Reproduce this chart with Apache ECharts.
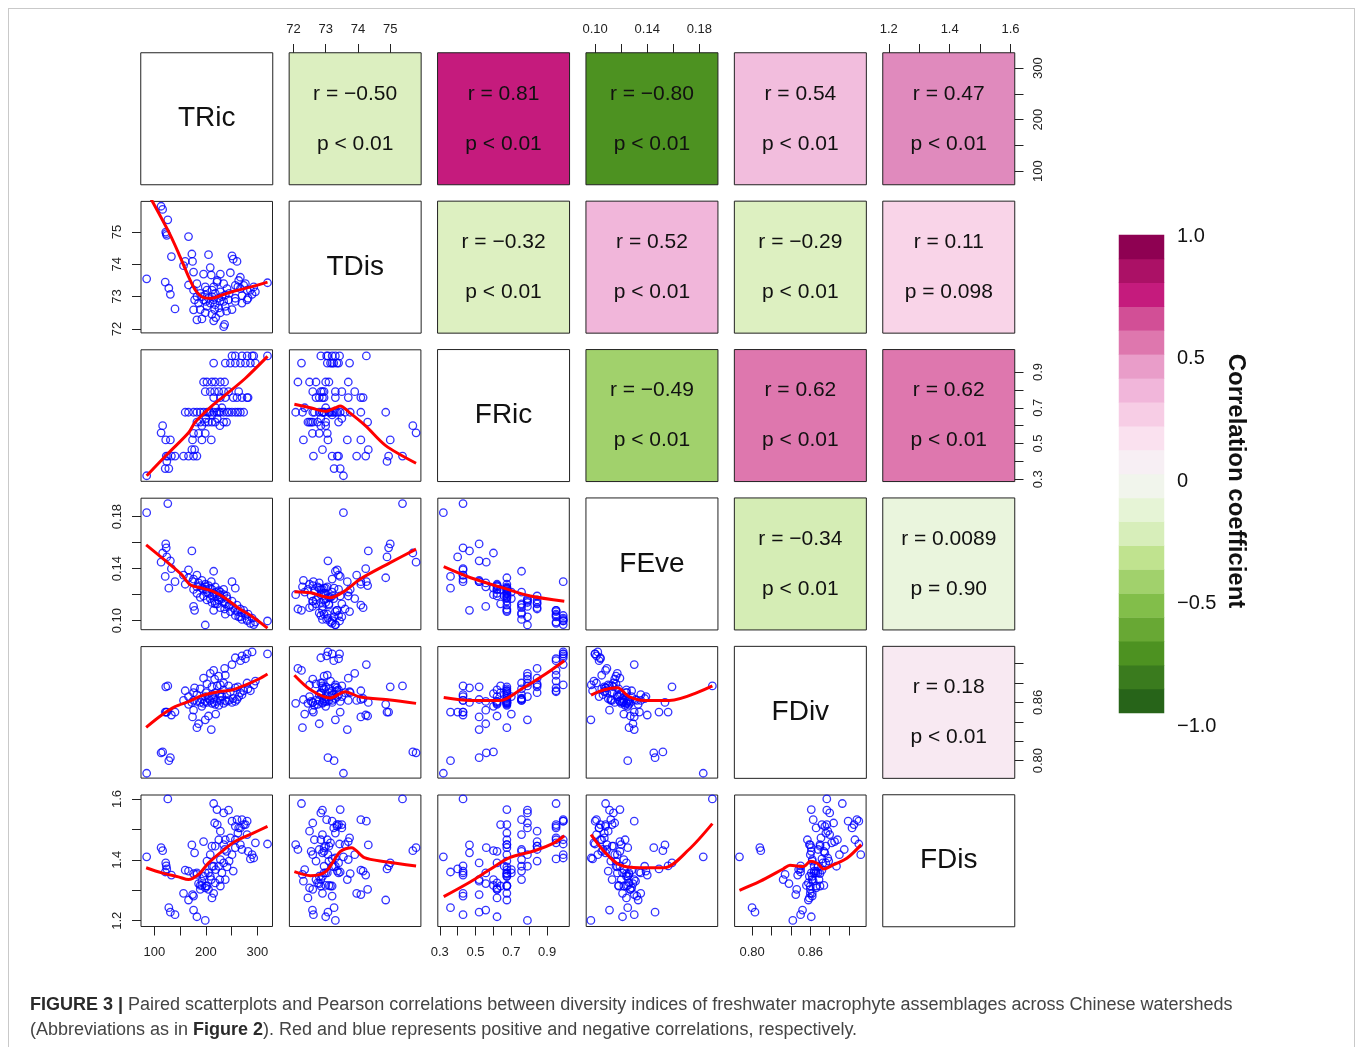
<!DOCTYPE html>
<html><head><meta charset="utf-8">
<script src="https://cdn.jsdelivr.net/npm/echarts@6/dist/echarts.min.js"></script>
<style>
html,body{margin:0;padding:0;background:#fff;}
#frame{position:absolute;left:8px;top:8px;width:1347px;height:1045px;border:1px solid #c9c9c9;box-sizing:border-box;}
#chart{position:absolute;left:0;top:0;width:1360px;height:1047px;}
</style></head><body>
<div id="frame"></div>
<div id="chart"></div>
<script>
// ---------------- data ----------------
const varNames = ['TRic', 'TDis', 'FRic', 'FEve', 'FDiv', 'FDis'];

const TRic = [85,113,116,122,123,124,121,126,128,131,133,140,
  156.5,159.8,166.2,166.2,172.7,174,176,176,176,178,
  182.5,182.5,182.5,185.7,189,189,192.2,195.4,195.4,198.7,
  198.7,198.7,202,202,205,208.4,208.4,210.4,211.7,211.7,
  215,215,215,216.9,218,218,221.4,224.7,228,228,
  228,234.4,234.4,234.4,236.3,237.6,237.6,241,244,247.4,
  250.6,250.6,257,257,257,260.3,266.8,267,270,270,
  276.6,280,281.8,289.6,319.5,205,212,225,245,262,
  219,231,200,222,240,192,227,253,279.8,286.3,
  292.8,296,273.3,263.6];
const TDis = [73.55,75.8,75.7,75.0,74.95,74.9,73.45,75.38,73.26,73.07,74.24,72.62,
  73.96,74.09,74.86,73.36,74.32,74.09,73.76,72.59,73.2,72.9,
  72.28,73.0,73.4,72.8,73.1,72.6,72.31,73.7,72.9,73.3,
  72.5,73.05,72.7,73.2,74.3,73.9,72.8,73.67,73.0,72.45,
  72.25,73.3,72.9,72.6,73.1,72.75,73.45,72.95,72.5,73.7,
  73.15,72.85,72.07,73.4,72.14,73.05,72.7,73.25,72.9,73.74,
  74.26,72.6,72.85,73.35,72.95,74.09,73.6,73.25,73.03,72.8,
  73.4,73.2,72.95,73.07,73.43,72.95,73.2,72.65,73.1,73.3,
  72.35,73.0,72.85,73.5,72.55,73.0,72.85,74.16,72.9,73.2,
  73.3,73.15,73.35,73.5];
const FRic = [0.32,0.56,0.60,0.52,0.43,0.40,0.36,0.43,0.36,0.52,0.43,0.43,
  0.43,0.675,0.675,0.43,0.466,0.52,0.675,0.557,0.43,0.466,
  0.675,0.62,0.43,0.557,0.675,0.62,0.52,0.844,0.675,0.79,
  0.62,0.557,0.844,0.675,0.62,0.79,0.675,0.52,0.844,0.62,
  0.95,0.757,0.675,0.79,0.844,0.62,0.675,0.79,0.844,0.757,
  0.675,0.79,0.675,0.62,0.844,0.95,0.757,0.675,0.79,0.95,
  0.99,0.675,0.99,0.95,0.675,0.757,0.675,0.95,0.99,0.757,
  0.95,0.99,0.757,0.99,0.99,0.675,0.66,0.675,0.675,0.675,
  0.70,0.70,0.64,0.64,0.62,0.60,0.60,0.757,0.757,0.95,
  0.99,0.95,0.675,0.79];
const FEve = [0.183,0.145,0.152,0.159,0.156,0.149,0.134,0.19,0.125,0.146,0.14,0.13,
  0.135,0.128,0.133,0.139,0.1536,0.130,0.124,0.111,0.132,0.108,
  0.126,0.121,0.135,0.129,0.118,0.127,0.131,0.119,0.124,0.0967,
  0.128,0.126,0.116,0.122,0.127,0.117,0.125,0.130,0.114,0.124,
  0.108,0.138,0.121,0.115,0.113,0.126,0.119,0.116,0.110,0.122,
  0.118,0.114,0.120,0.124,0.109,0.105,0.113,0.117,0.111,0.107,
  0.130,0.115,0.104,0.108,0.125,0.112,0.109,0.103,0.101,0.106,
  0.104,0.100,0.105,0.102,0.0998,0.121,0.119,0.123,0.112,0.107,
  0.122,0.117,0.124,0.113,0.119,0.125,0.120,0.110,0.101,0.098,
  0.097,0.099,0.108,0.103];
const FDiv = [0.787,0.808,0.809,0.876,0.85,0.85,0.85,0.877,0.80,0.803,0.847,0.85,
  0.862,0.872,0.858,0.866,0.860,0.845,0.870,0.852,0.862,0.875,
  0.834,0.861,0.868,0.838,0.874,0.860,0.863,0.885,0.859,0.842,
  0.866,0.861,0.879,0.860,0.846,0.890,0.862,0.832,0.876,0.859,
  0.893,0.864,0.860,0.884,0.870,0.858,0.861,0.887,0.878,0.862,
  0.866,0.880,0.859,0.873,0.895,0.888,0.862,0.868,0.877,0.871,
  0.899,0.860,0.906,0.875,0.861,0.863,0.870,0.903,0.908,0.868,
  0.905,0.910,0.874,0.912,0.910,0.864,0.868,0.857,0.862,0.876,
  0.848,0.866,0.870,0.877,0.861,0.856,0.869,0.864,0.880,0.872,
  0.878,0.882,0.872,0.866];
const FDis = [1.41,1.44,1.43,1.39,1.38,1.37,1.36,1.6,1.243,1.228,1.35,1.22,
  1.29,1.366,1.268,1.363,1.449,1.286,1.355,1.235,1.281,1.423,
  1.352,1.213,1.357,1.322,1.316,1.303,1.33,1.46,1.346,1.201,
  1.308,1.357,1.396,1.314,1.303,1.417,1.346,1.335,1.445,1.275,
  1.585,1.379,1.29,1.521,1.445,1.324,1.565,1.379,1.494,1.401,
  1.314,1.554,1.45,1.39,1.434,1.466,1.335,1.377,1.563,1.472,
  1.527,1.417,1.466,1.51,1.44,1.532,1.45,1.505,1.532,1.434,
  1.516,1.527,1.428,1.417,1.452,1.357,1.379,1.466,1.396,1.488,
  1.368,1.357,1.314,1.516,1.428,1.316,1.335,1.363,1.483,1.403,
  1.406,1.456,1.516,1.505];

// axis extents, ticks and tick labels per variable
const axisMin = [74, 71.876, 0.289, 0.0931, 0.782, 1.181];
const axisMax = [329.2, 75.95, 1.024, 0.1941, 0.9175, 1.613];
const tickTRic = [100, 150, 200, 250, 300];
const tickTDis = [72, 73, 74, 75];
const tickFRic = [0.3, 0.4, 0.5, 0.6, 0.7, 0.8, 0.9];
const tickFEve = [0.10, 0.12, 0.14, 0.16, 0.18];
const tickFDiv = [0.80, 0.82, 0.84, 0.86, 0.88, 0.90];
const tickFDis = [1.2, 1.3, 1.4, 1.5, 1.6];
const labelTRic = [100, 200, 300];
const labelTDis = [72, 73, 74, 75];
const labelFRic = [0.3, 0.5, 0.7, 0.9];
const labelFEve = [0.10, 0.14, 0.18];
const labelFDiv = [0.80, 0.86];
const labelFDis = [1.2, 1.4, 1.6];
const labelDecimals = [0, 0, 1, 2, 2, 1];

// smoothed (red) lines: [x, y] in data units
const smooth_TDis_TRic = [[84,76.3],[127.3,75.02],[146.8,74.35],[166.2,73.62],[179.2,73.21],[195.4,72.97],[211.7,72.95],[231.1,73.05],[257.1,73.18],[289.6,73.31],[319.5,73.45]];
const smooth_FRic_TRic = [[85,0.32],[127.3,0.447],[166.2,0.56],[179.2,0.62],[211.7,0.711],[237.6,0.771],[276.6,0.865],[319.5,0.987]];
const smooth_FEve_TRic = [[84,0.1583],[127.3,0.1442],[153.3,0.1352],[169.5,0.1276],[192.2,0.125],[214.9,0.1224],[237.6,0.1173],[263.6,0.1096],[289.6,0.1032],[319.5,0.0943]];
const smooth_FDiv_TRic = [[84,0.8343],[114.3,0.847],[140.3,0.8556],[166.2,0.8607],[192.2,0.867],[224.7,0.871],[250.6,0.8728],[276.6,0.8779],[302.5,0.8841],[319.5,0.8893]];
const smooth_FDis_TRic = [[84,1.374],[114.3,1.357],[146.8,1.344],[166.2,1.335],[185.7,1.352],[205.2,1.39],[231.1,1.428],[257.1,1.461],[289.5,1.486],[319.5,1.51]];
const smooth_FRic_TDis = [[72.03,0.72],[72.53,0.70],[72.99,0.68],[73.3,0.70],[73.45,0.71],[73.76,0.67],[74.23,0.60],[74.85,0.49],[75.8,0.39]];
const smooth_FEve_TDis = [[72.03,0.1223],[72.53,0.1215],[73.14,0.1177],[73.6,0.123],[74.07,0.132],[75.0,0.1446],[75.8,0.155]];
const smooth_FDiv_TDis = [[72.03,0.888],[72.53,0.873],[73.14,0.8645],[73.6,0.871],[74.07,0.8655],[75.0,0.8625],[75.8,0.859]];
const smooth_FDis_TDis = [[72.03,1.361],[72.53,1.348],[73.0,1.361],[73.45,1.427],[73.8,1.44],[74.2,1.407],[74.85,1.394],[75.8,1.38]];
const smooth_FEve_FRic = [[0.322,0.1415],[0.472,0.133],[0.667,0.1246],[0.806,0.119],[0.996,0.115]];
const smooth_FDiv_FRic = [[0.322,0.865],[0.472,0.862],[0.639,0.862],[0.75,0.873],[0.889,0.889],[0.996,0.903]];
const smooth_FDis_FRic = [[0.322,1.279],[0.472,1.328],[0.58,1.368],[0.69,1.407],[0.83,1.43],[0.94,1.456],[0.996,1.479]];
const smooth_FDiv_FEve = [[0.0968,0.8675],[0.107,0.873],[0.117,0.875],[0.126,0.866],[0.1377,0.862],[0.157,0.862],[0.19,0.877]];
const smooth_FDis_FEve = [[0.0968,1.483],[0.107,1.427],[0.1185,1.384],[0.134,1.374],[0.153,1.374],[0.172,1.434],[0.19,1.519]];
const smooth_FDis_FDiv = [[0.787,1.30],[0.808,1.329],[0.832,1.37],[0.839,1.382],[0.853,1.378],[0.86,1.395],[0.867,1.389],[0.874,1.37],[0.884,1.384],[0.898,1.406],[0.9125,1.45]];

// correlation cells (upper triangle)
const corrRow = [0,0,0,0,0,1,1,1,1,2,2,2,3,3,4];
const corrCol = [1,2,3,4,5,2,3,4,5,3,4,5,4,5,5];
const corrR = [-0.50,0.81,-0.80,0.54,0.47,-0.32,0.52,-0.29,0.11,-0.49,0.62,0.62,-0.34,0.0089,0.18];
const corrRText = ['r = −0.50','r = 0.81','r = −0.80','r = 0.54','r = 0.47','r = −0.32','r = 0.52','r = −0.29','r = 0.11','r = −0.49','r = 0.62','r = 0.62','r = −0.34','r = 0.0089','r = 0.18'];
const corrPText = ['p < 0.01','p < 0.01','p < 0.01','p < 0.01','p < 0.01','p < 0.01','p < 0.01','p < 0.01','p = 0.098','p < 0.01','p < 0.01','p < 0.01','p < 0.01','p = 0.90','p < 0.01'];
const corrColor = ['#DCEFC0','#C51B7D','#4D9221','#F2BDDD','#E08ABD','#DDF0C1','#F1B6DA','#DDF0C1','#F9D4E8','#A1D16C','#DE77AE','#DE77AE','#D5EDB5','#EAF5DD','#F8E9F2'];

// colour key: 20 bins from -1 to 1
const keyBins = [-0.95,-0.85,-0.75,-0.65,-0.55,-0.45,-0.35,-0.25,-0.15,-0.05,0.05,0.15,0.25,0.35,0.45,0.55,0.65,0.75,0.85,0.95];
const keyColors = ['#276419','#3A7B1E','#4D9221','#68A834','#82BE4A','#A1D16C','#C0E38F','#D7EEBA','#E6F4D6','#F1F5EC','#F7EFF4','#FAE1EF','#F7CDE5','#F1B6DA','#E99DC9','#DE77AE','#D24F96','#C51B7D','#AB1166','#8E0152'];
const keyTicks = [-1, -0.5, 0, 0.5, 1];
const keyTickText = ['−1.0', '−0.5', '0', '0.5', '1.0'];

// ---------------- build ----------------
const vars = [TRic, TDis, FRic, FEve, FDiv, FDis];
const ticks = [tickTRic, tickTDis, tickFRic, tickFEve, tickFDiv, tickFDis];
const tlabels = [labelTRic, labelTDis, labelFRic, labelFEve, labelFDiv, labelFDis];
const smoothMap = {
  '1-0': smooth_TDis_TRic, '2-0': smooth_FRic_TRic, '3-0': smooth_FEve_TRic, '4-0': smooth_FDiv_TRic, '5-0': smooth_FDis_TRic,
  '2-1': smooth_FRic_TDis, '3-1': smooth_FEve_TDis, '4-1': smooth_FDiv_TDis, '5-1': smooth_FDis_TDis,
  '3-2': smooth_FEve_FRic, '4-2': smooth_FDiv_FRic, '5-2': smooth_FDis_FRic,
  '4-3': smooth_FDiv_FEve, '5-3': smooth_FDis_FEve, '5-4': smooth_FDis_FDiv
};

const FONT = '"Liberation Sans", Arial, Helvetica, sans-serif';
const PANEL = 131.5, PITCH = 148.4, LEFT0 = 141, TOP0 = 53;
const INK = '#222';

const grids = [], xAxes = [], yAxes = [], series = [];

function valueAxis(v, show, pos, isY, g) {
  return {
    type: 'value', gridIndex: g, min: axisMin[v], max: axisMax[v], position: pos, show: show,
    axisLine: { show: false }, splitLine: { show: false },
    axisTick: { show: true, inside: false, length: 9, customValues: ticks[v], lineStyle: { color: INK, width: 1 } },
    axisLabel: {
      show: true, customValues: tlabels[v],
      formatter: (val) => Number(val).toFixed(labelDecimals[v]),
      fontSize: 13, color: INK, fontFamily: FONT, margin: isY ? 17 : (pos === 'top' ? 17 : 19), rotate: isY ? 90 : 0,
      showMinLabel: true, showMaxLabel: true
    }
  };
}

for (let i = 0; i < 6; i++) {
  for (let j = 0; j < 6; j++) {
    const g = grids.length;
    grids.push({
      left: LEFT0 + j * PITCH, top: TOP0 + i * PITCH, width: PANEL, height: PANEL,
      show: i > j, borderColor: INK, borderWidth: 1, backgroundColor: 'transparent'
    });
    const showTop = (i === 0 && j % 2 === 1);
    const showBottom = (i === 5 && j % 2 === 0);
    const showLeft = (j === 0 && i % 2 === 1);
    const showRight = (j === 5 && i % 2 === 0);
    if (i > j) {
      const xi = xAxes.length;
      xAxes.push(valueAxis(j, showBottom, 'bottom', false, g));
      const yi = yAxes.length;
      yAxes.push(valueAxis(i, showLeft, 'left', true, g));
      series.push({
        type: 'scatter', xAxisIndex: xi, yAxisIndex: yi, silent: true,
        data: vars[j].map((x, k) => [x, vars[i][k]]),
        symbol: 'circle', symbolSize: 7.5,
        itemStyle: { color: 'rgba(255,255,255,0)', borderColor: '#0000FF', borderWidth: 1.3 },
        emphasis: { disabled: true }, z: 2
      });
      series.push({
        type: 'line', xAxisIndex: xi, yAxisIndex: yi, silent: true,
        data: smoothMap[i + '-' + j], showSymbol: false, smooth: 0.3, clip: true,
        lineStyle: { color: '#FF0000', width: 3 }, emphasis: { disabled: true }, z: 3
      });
    } else {
      const xi = xAxes.length;
      xAxes.push({ type: 'category', gridIndex: g, data: [''], show: false, position: 'bottom' });
      const yi = yAxes.length;
      yAxes.push({ type: 'category', gridIndex: g, data: [''], show: false, position: 'left' });
      if (showTop) xAxes.push(valueAxis(j, true, 'top', false, g));
      if (showRight) yAxes.push(valueAxis(i, true, 'right', true, g));
      let item;
      if (i === j) {
        item = {
          value: [0, 0, 1], itemStyle: { color: '#FFFFFF', borderColor: INK, borderWidth: 1 },
          label: { show: true, formatter: varNames[i], fontSize: 28, color: '#111', fontFamily: FONT, padding: [8, 0, 0, 0] }
        };
      } else {
        let c = 0;
        for (let k = 0; k < corrRow.length; k++) if (corrRow[k] === i && corrCol[k] === j) c = k;
        item = {
          value: [0, 0, corrR[c]], itemStyle: { color: corrColor[c], borderColor: INK, borderWidth: 1 },
          label: { show: true, formatter: corrRText[c] + '\n' + corrPText[c], fontSize: 21, lineHeight: 50, color: '#111', fontFamily: FONT, padding: [2, 0, 0, 0] }
        };
      }
      series.push({
        type: 'heatmap', xAxisIndex: xi, yAxisIndex: yi, silent: true,
        data: [item], emphasis: { disabled: true }
      });
    }
  }
}

// colour key bins
{
  const g = grids.length;
  grids.push({ left: 1119, top: 235, width: 45, height: 478, show: false });
  const xi = xAxes.length;
  xAxes.push({ type: 'category', gridIndex: g, data: [''], show: false });
  const yi = yAxes.length;
  yAxes.push({ type: 'category', gridIndex: g, data: keyBins.map(String), show: false });
  series.push({
    type: 'heatmap', xAxisIndex: xi, yAxisIndex: yi, silent: true, emphasis: { disabled: true },
    data: keyBins.map((b, k) => ({ value: [0, k, b], itemStyle: { color: keyColors[k] } }))
  });
}
// colour key labels + title
{
  const g = grids.length;
  grids.push({ left: 1119, top: 236, width: 45, height: 490, show: false });
  xAxes.push({ type: 'value', gridIndex: g, min: 0, max: 1, show: false });
  yAxes.push({
    type: 'value', gridIndex: g, min: -1, max: 1, position: 'right',
    axisLine: { show: false }, axisTick: { show: false }, splitLine: { show: false },
    axisLabel: {
      customValues: keyTicks, fontSize: 20, color: '#111', fontFamily: FONT, margin: 13,
      formatter: (v) => keyTickText[keyTicks.indexOf(Math.round(v * 10) / 10)]
    },
    name: 'Correlation coefficient', nameLocation: 'middle', nameRotate: -90, nameGap: 60,
    nameTextStyle: { fontSize: 24, fontWeight: 'bold', color: '#111', fontFamily: FONT }
  });
}

const option = {
  animation: false,
  backgroundColor: 'transparent',
  title: {
    left: 25, top: 988,
    text: '{b|FIGURE 3 |} Paired scatterplots and Pearson correlations between diversity indices of freshwater macrophyte assemblages across Chinese watersheds\n(Abbreviations as in {b|Figure 2}). Red and blue represents positive and negative correlations, respectively.',
    textStyle: {
      fontSize: 18, fontWeight: 'normal', color: '#444', lineHeight: 25, fontFamily: FONT,
      rich: { b: { fontSize: 18, fontWeight: 'bold', color: '#2a2a2a', lineHeight: 25, fontFamily: FONT } }
    }
  },
  grid: grids, xAxis: xAxes, yAxis: yAxes, series: series
};

const chart = echarts.init(document.getElementById('chart'), null, { renderer: 'canvas' });
chart.setOption(option);
</script>
</body></html>
